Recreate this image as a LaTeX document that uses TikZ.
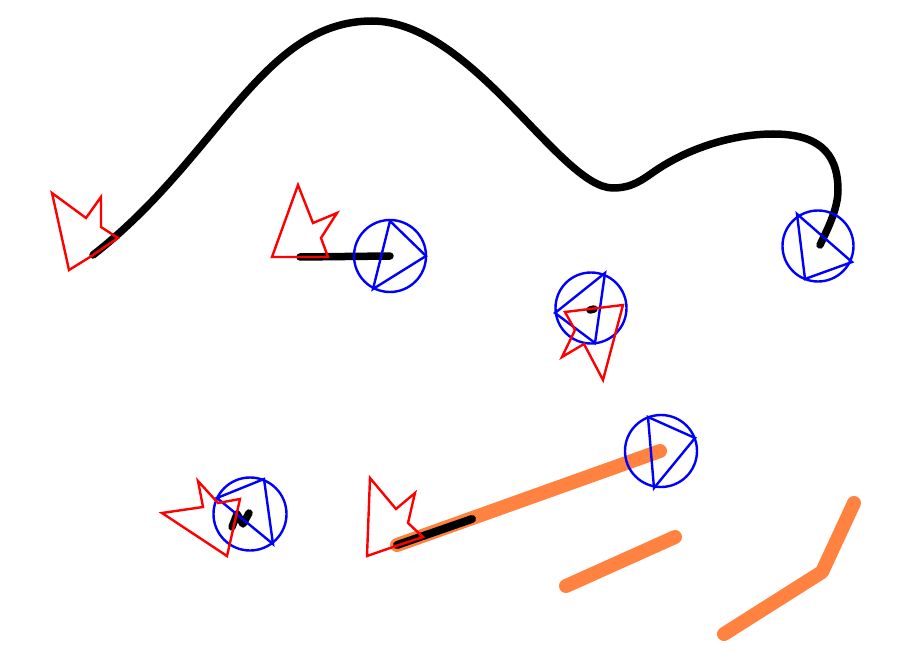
\documentclass[tikz,border=0pt]{standalone}
\usepackage{tikz}
\definecolor{orng}{RGB}{255,130,64}
\tikzset{
  blk/.style={line width=7.5pt, line cap=round, line join=round, black},
  org/.style={line width=14pt, line cap=round, line join=round, orng},
  flag/.style={red, line width=2.4pt, line join=miter},
  ring/.style={blue, line width=2.4pt},
}
\begin{document}
\begin{tikzpicture}[x=1pt,y=-1pt]
\useasboundingbox (0,0) rectangle (906,658);
% orange strokes
\draw[org] (397,545) -- (660,451);
\draw[org] (566,586) -- (675,537);
\draw[org] (724,634) -- (822,572) -- (854,503);
% black strokes
\draw[blk] (93,255) .. controls (219,157) and (262,21) .. (372,21)
  .. controls (472,21) and (560,188) .. (613,188)
  .. controls (632,188) and (642,180) .. (655,171)
  .. controls (690,147) and (735,134) .. (773,134)
  .. controls (815,134) and (838,150) .. (838,190)
  .. controls (838,210) and (826,232) .. (820,245);
\draw[blk] (300,257) -- (390,256);
\draw[blk] (590,310) -- (594,309);
\draw[blk] (232,527) -- (237,514) -- (243,524) -- (249,513);
\draw[line width=8pt, line cap=round, black] (397,545) -- (472,519);
% blue rings
\draw[ring] (818,246) circle (35.5);
\draw[ring] (797,214) -- (852,262) -- (805,279) -- cycle;
\draw[ring] (390,256) circle (36);
\draw[ring] (390,221) -- (426,256) -- (373,289) -- cycle;
\draw[ring] (591,308) circle (35.5);
\draw[ring] (605,273) -- (555,313) -- (595,343) -- cycle;
\draw[ring] (250,514) circle (36.5);
\draw[ring] (217,498) -- (264,479) -- (273,544) -- cycle;
\draw[ring] (661,451) circle (36);
\draw[ring] (648,417) -- (695,438) -- (654,488) -- cycle;
% red flags
\draw[flag] (52,193) -- (86,218) -- (101,197) -- (101,227) -- (118,238) -- (90,257) -- (69,270) -- cycle;
\draw[flag] (298,185) -- (313,223) -- (337,213) -- (321,238) -- (328,257) -- (272,257) -- cycle;
\draw[flag] (565,312) -- (623,305) -- (603,380) -- (584,344) -- (562,357) -- (575,330) -- cycle;
\draw[flag] (198,481) -- (203,507) -- (162,513) -- (227,556) -- (240,499) -- (218,503) -- cycle;
\draw[flag] (370,478) -- (396,509) -- (415,493) -- (408,523) -- (423,537) -- (393,547) -- (367,556) -- cycle;
\end{tikzpicture}
\end{document}
